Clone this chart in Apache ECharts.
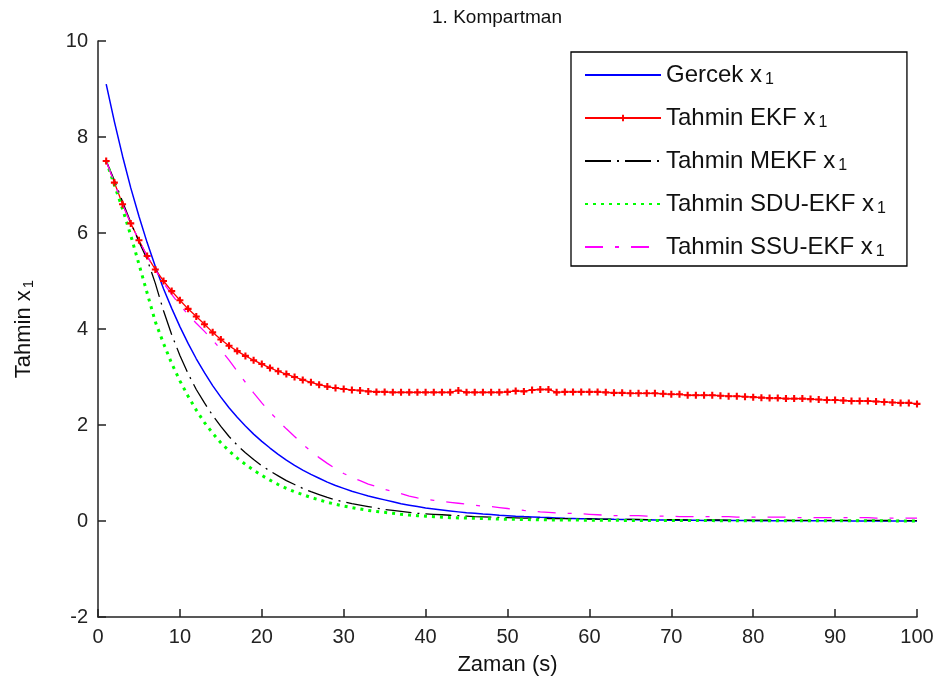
<!DOCTYPE html>
<html>
<head>
<meta charset="utf-8">
<script src="https://cdn.jsdelivr.net/npm/echarts@6/dist/echarts.min.js"></script>
<style>html,body{margin:0;padding:0;background:#fff}#c{width:941px;height:685px}</style>
</head>
<body>
<div id="c"></div>
<script>
const time = [1,2,3,4,5,6,7,8,9,10,11,12,13,14,15,16,17,18,19,20,21,22,23,24,25,26,27,28,29,30,31,32,33,34,35,36,37,38,39,40,41,42,43,44,45,46,47,48,49,50,51,52,53,54,55,56,57,58,59,60,61,62,63,64,65,66,67,68,69,70,71,72,73,74,75,76,77,78,79,80,81,82,83,84,85,86,87,88,89,90,91,92,93,94,95,96,97,98,99,100];

const gercek = [9.10,8.32,7.60,6.94,6.35,5.80,5.30,4.84,4.43,4.05,
3.70,3.38,3.09,2.82,2.58,2.36,2.16,1.98,1.81,1.66,
1.52,1.39,1.27,1.16,1.06,0.97,0.89,0.81,0.74,0.68,
0.62,0.57,0.52,0.48,0.44,0.40,0.36,0.33,0.30,0.27,
0.25,0.23,0.21,0.19,0.17,0.16,0.145,0.133,0.121,0.111,
0.101,0.092,0.085,0.077,0.071,0.065,0.059,0.054,0.049,0.045,
0.041,0.038,0.034,0.031,0.029,0.026,0.024,0.022,0.020,0.018,
0.017,0.015,0.014,0.013,0.012,0.011,0.010,0.009,0.008,0.007,
0.007,0.006,0.006,0.005,0.005,0.004,0.004,0.003,0.003,0.003,
0.003,0.002,0.002,0.002,0.002,0.002,0.001,0.001,0.001,0.001];

const ekf = [7.50,7.05,6.60,6.20,5.85,5.52,5.24,5.00,4.79,4.60,
4.42,4.26,4.10,3.93,3.78,3.65,3.54,3.44,3.35,3.27,
3.19,3.12,3.06,3.00,2.94,2.89,2.84,2.80,2.77,2.75,
2.73,2.72,2.70,2.69,2.69,2.68,2.68,2.68,2.68,2.68,
2.68,2.68,2.68,2.72,2.68,2.68,2.68,2.68,2.68,2.69,
2.71,2.70,2.73,2.74,2.74,2.68,2.69,2.69,2.69,2.69,
2.69,2.68,2.67,2.67,2.66,2.66,2.66,2.66,2.65,2.64,
2.64,2.62,2.62,2.62,2.62,2.61,2.60,2.60,2.59,2.58,
2.57,2.56,2.56,2.55,2.55,2.55,2.54,2.53,2.52,2.52,
2.51,2.50,2.50,2.50,2.49,2.48,2.47,2.46,2.46,2.44];

const mekf = [7.50,7.10,6.65,6.22,5.82,5.45,4.95,4.38,3.88,3.45,
3.07,2.74,2.46,2.20,1.97,1.76,1.58,1.42,1.28,1.15,
1.04,0.94,0.84,0.76,0.68,0.61,0.55,0.49,0.44,0.40,
0.36,0.33,0.30,0.27,0.24,0.22,0.20,0.18,0.16,0.15,
0.14,0.13,0.12,0.11,0.10,0.09,0.085,0.08,0.075,0.07,
0.065,0.06,0.058,0.055,0.052,0.05,0.048,0.046,0.044,0.042,
0.04,0.038,0.036,0.034,0.033,0.032,0.03,0.029,0.028,0.027,
0.026,0.025,0.024,0.023,0.022,0.021,0.02,0.02,0.019,0.018,
0.018,0.017,0.016,0.016,0.015,0.015,0.014,0.014,0.013,0.013,
0.012,0.012,0.011,0.011,0.011,0.010,0.010,0.010,0.009,0.009];

const sduEkf = [7.50,7.00,6.50,5.95,5.35,4.75,4.15,3.70,3.28,2.92,
2.60,2.31,2.05,1.83,1.63,1.46,1.31,1.18,1.06,0.95,
0.85,0.76,0.68,0.61,0.55,0.49,0.44,0.39,0.35,0.31,
0.28,0.25,0.22,0.20,0.18,0.16,0.14,0.125,0.11,0.10,
0.09,0.08,0.07,0.065,0.06,0.055,0.05,0.045,0.04,0.037,
0.034,0.031,0.028,0.026,0.024,0.022,0.02,0.019,0.018,0.017,
0.016,0.015,0.014,0.013,0.012,0.012,0.011,0.011,0.01,0.01,
0.009,0.009,0.008,0.008,0.008,0.007,0.007,0.007,0.006,0.006,
0.006,0.006,0.005,0.005,0.005,0.005,0.004,0.004,0.004,0.004,
0.004,0.003,0.003,0.003,0.003,0.003,0.003,0.002,0.002,0.002];

const ssuEkf = [7.50,7.05,6.60,6.20,5.85,5.52,5.23,4.96,4.72,4.50,
4.30,4.12,3.95,3.77,3.57,3.35,3.12,2.89,2.67,2.46,
2.27,2.09,1.92,1.76,1.60,1.45,1.32,1.20,1.09,0.99,
0.91,0.84,0.77,0.72,0.66,0.61,0.57,0.52,0.48,0.45,
0.43,0.41,0.39,0.37,0.35,0.33,0.31,0.30,0.28,0.26,
0.24,0.22,0.21,0.19,0.18,0.17,0.16,0.16,0.15,0.14,
0.13,0.12,0.11,0.11,0.11,0.11,0.10,0.10,0.10,0.10,
0.09,0.09,0.09,0.09,0.09,0.09,0.09,0.08,0.08,0.08,
0.08,0.08,0.08,0.08,0.07,0.07,0.07,0.07,0.07,0.07,
0.07,0.07,0.07,0.07,0.06,0.06,0.06,0.06,0.06,0.06];

const seriesNames = ['Gercek x', 'Tahmin EKF x', 'Tahmin MEKF x', 'Tahmin SDU-EKF x', 'Tahmin SSU-EKF x'];
const yTicks = [-2, 0, 2, 4, 6, 8, 10];
const xTicks = [0, 10, 20, 30, 40, 50, 60, 70, 80, 90, 100];

const pair = arr => time.map((t, i) => [t, arr[i]]);
const FONT = 'Liberation Sans, Arial, sans-serif';
const plusPath = 'path://M3.5,0 L6.5,0 L6.5,3.5 L10,3.5 L10,6.5 L6.5,6.5 L6.5,10 L3.5,10 L3.5,6.5 L0,6.5 L0,3.5 L3.5,3.5 Z';

const legendData = seriesNames.map((n, i) => i === 1 ? {name: n} : {name: n, itemStyle: {opacity: 0}});

const chart = echarts.init(document.getElementById('c'), null, {renderer: 'canvas'});
chart.setOption({
  animation: false,
  backgroundColor: '#fff',
  title: {
    text: '1. Kompartman',
    left: 492, top: 3, textAlign: 'center',
    textStyle: {fontFamily: FONT, fontSize: 19, fontWeight: 'normal', color: '#111'}
  },
  grid: {left: 97, right: 24, top: 41, bottom: 68, containLabel: false},
  legend: {
    orient: 'vertical',
    left: 571, top: 52,
    padding: [6, 21, 6, 13],
    backgroundColor: '#fff',
    borderColor: '#000', borderWidth: 1.3,
    itemWidth: 76, itemHeight: 8, itemGap: 13,
    data: legendData,
    formatter: n => '{a|' + n + '}{s|1}',
    textStyle: {
      fontFamily: FONT, color: '#111',
      rich: {
        a: {fontFamily: FONT, fontSize: 24, color: '#111', lineHeight: 26, verticalAlign: 'middle'},
        s: {fontFamily: FONT, fontSize: 16, color: '#111', lineHeight: 26, padding: [14, 0, 0, 3], verticalAlign: 'bottom'}
      }
    }
  },
  xAxis: {
    type: 'value', min: 0, max: 100, interval: 10,
    name: 'Zaman (s)', nameLocation: 'middle', nameGap: 37,
    nameTextStyle: {fontFamily: FONT, fontSize: 22, color: '#111'},
    axisLine: {onZero: false, lineStyle: {color: '#222', width: 1.5}},
    axisTick: {inside: true, length: 8, lineStyle: {color: '#222', width: 1.5}},
    axisLabel: {fontFamily: FONT, fontSize: 20, color: '#222', margin: 10,
      formatter: v => xTicks.includes(v) ? String(v) : ''},
    splitLine: {show: false}
  },
  yAxis: {
    type: 'value', min: -2, max: 10, interval: 2,
    name: '{a|Tahmin x}{s|1}', nameLocation: 'middle', nameGap: 62, nameRotate: 90,
    nameTextStyle: {fontFamily: FONT, fontSize: 22, color: '#111',
      rich: {
        a: {fontFamily: FONT, fontSize: 22, color: '#111', lineHeight: 24},
        s: {fontFamily: FONT, fontSize: 15, color: '#111', lineHeight: 24, padding: [13, 0, 0, 2], verticalAlign: 'bottom'}
      }},
    axisLine: {onZero: false, lineStyle: {color: '#222', width: 1.5}},
    axisTick: {inside: true, length: 8, lineStyle: {color: '#222', width: 1.5}},
    axisLabel: {fontFamily: FONT, fontSize: 20, color: '#222', margin: 10,
      formatter: v => yTicks.includes(v) ? String(v) : ''},
    splitLine: {show: false}
  },
  series: [
    {name: seriesNames[0], type: 'line', data: pair(gercek), symbol: 'none',
     lineStyle: {color: '#0000ff', width: 1.5, type: 'solid'}, itemStyle: {color: '#0000ff'}},
    {name: seriesNames[1], type: 'line', data: pair(ekf), symbol: plusPath, symbolSize: 7, showSymbol: true,
     lineStyle: {color: '#ff0000', width: 1.3}, itemStyle: {color: '#ff0000'}},
    {name: seriesNames[2], type: 'line', data: pair(mekf), symbol: 'none',
     lineStyle: {color: '#000000', width: 1.3, type: [26, 6, 2, 6]}, itemStyle: {color: '#000000'}},
    {name: seriesNames[3], type: 'line', data: pair(sduEkf), symbol: 'none',
     lineStyle: {color: '#00ff00', width: 3, type: [3, 5]}, itemStyle: {color: '#00ff00'}},
    {name: seriesNames[4], type: 'line', data: pair(ssuEkf), symbol: 'none',
     lineStyle: {color: '#ff00ff', width: 1.3, type: [18, 12, 4, 12]}, itemStyle: {color: '#ff00ff'}}
  ]
});
</script>
</body>
</html>
